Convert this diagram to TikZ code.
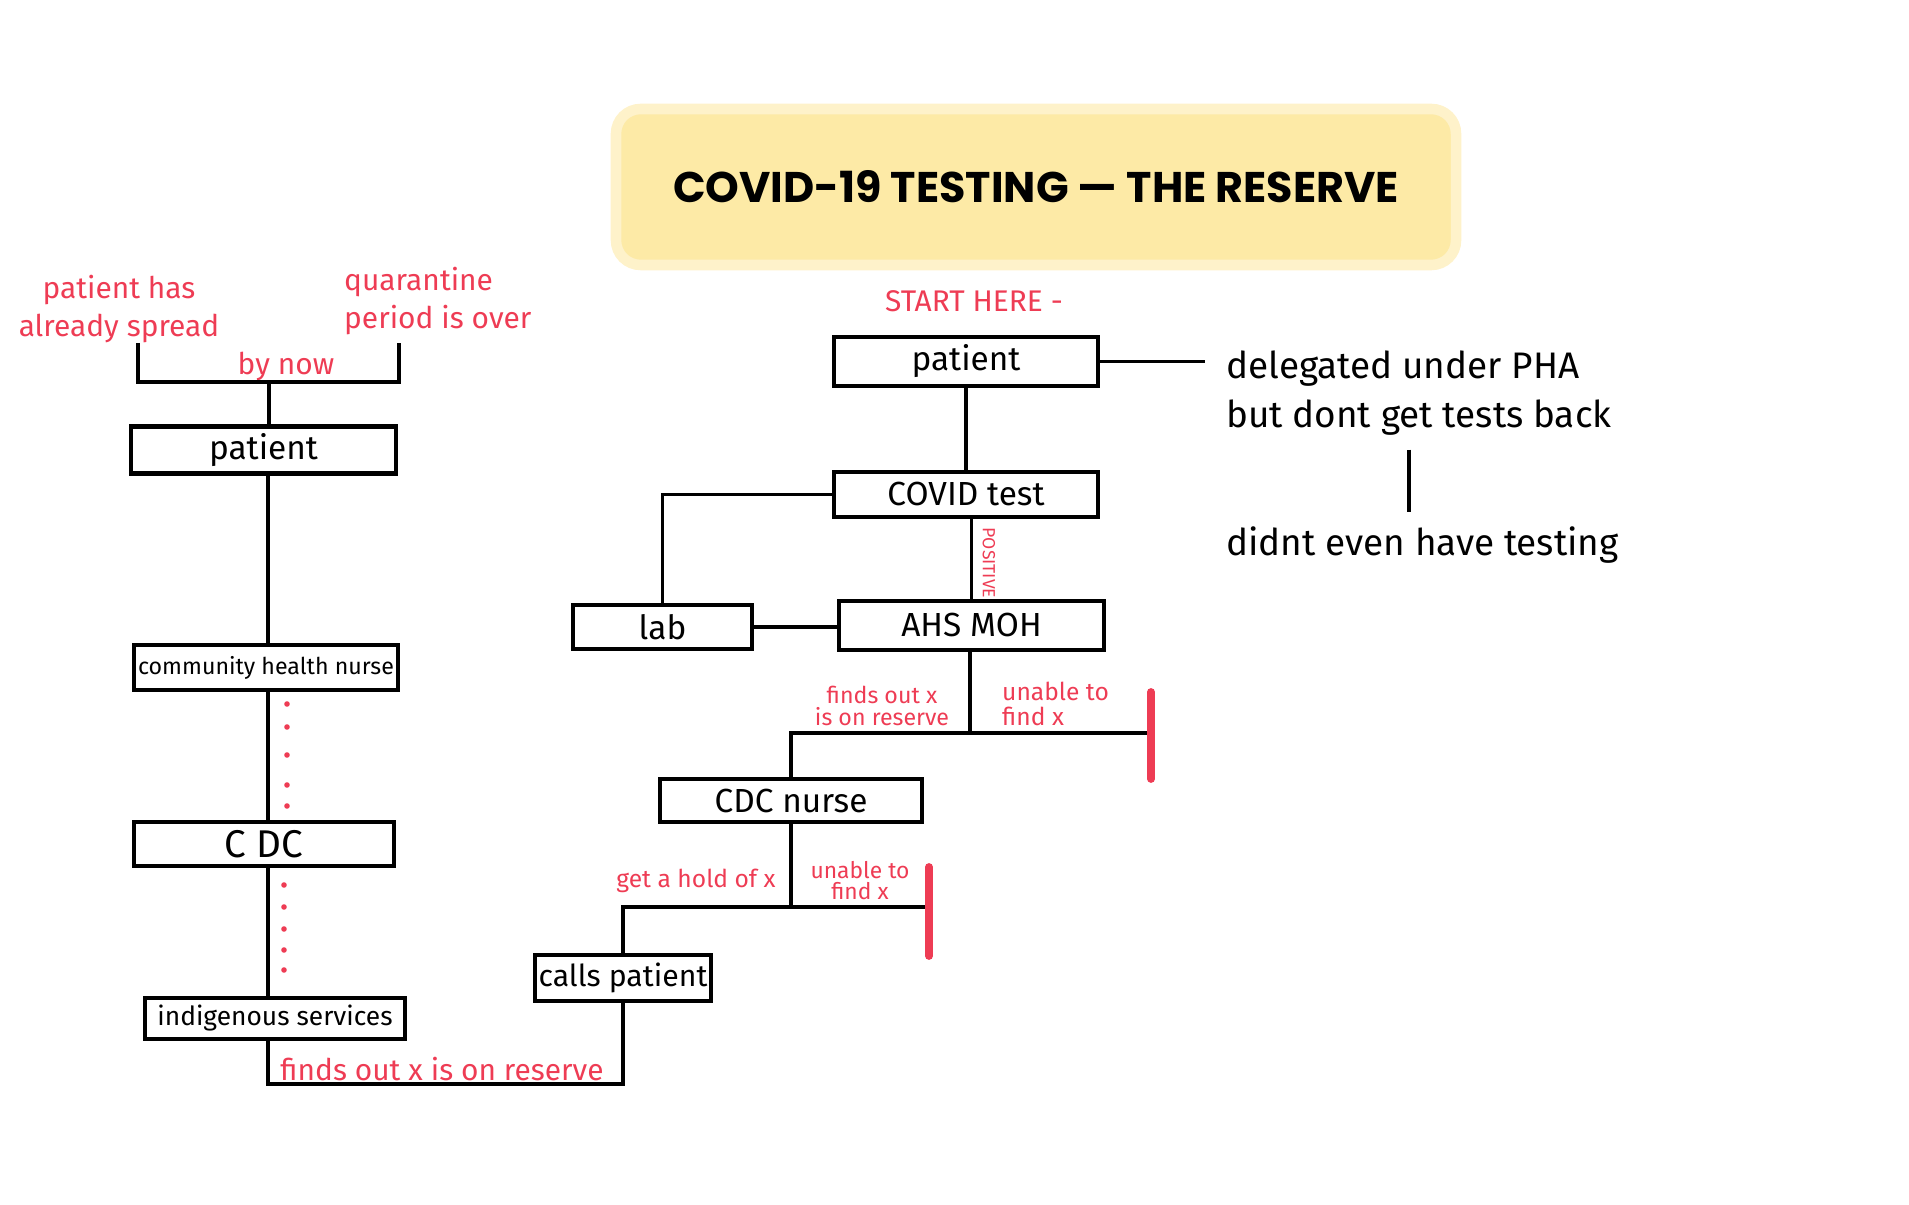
\documentclass[tikz,border=0pt]{standalone}
\usepackage{fontspec}
\setmainfont{Fira Sans}
\newfontfamily\titlefont{Poppins}
\definecolor{penred}{RGB}{238,60,84}
\definecolor{hilite}{RGB}{253,234,166}
\begin{document}
\begin{tikzpicture}[
    box/.style={draw, rectangle, line width=1.3pt, inner sep=2pt, font=\fontsize{9.5}{11}\selectfont},
    edge/.style={line width=0.9pt},
    pen/.style={text=penred, inner sep=1pt, align=center, font=\fontsize{8.5}{11}\selectfont},
    note/.style={inner sep=1pt, align=left, font=\fontsize{10.5}{14}\selectfont},
    stopbar/.style={draw=penred, line width=2.2pt, line cap=round}]

  \useasboundingbox (0,0) rectangle (19.09,-12.05);

  \node[fill=hilite, draw=hilite!60, line width=3pt, rounded corners=7pt,
        minimum width=8.4cm, minimum height=1.56cm,
        font=\titlefont\bfseries\fontsize{12.2}{14}\selectfont] (title) at (10.36,-1.87)
        {COVID-19 TESTING — THE RESERVE};

  % left column
  \coordinate (spine) at (2.68,0);
  \node[pen] (spread) at (1.19,-3.09) {patient has\\already spread};
  \node[pen, anchor=west, align=left] (over) at (3.40,-3.01) {quarantine\\period is over};
  \node[pen] (bynow) at (2.86,-3.66) {by now};
  \node[box, minimum width=2.65cm, minimum height=0.42cm] (lpat) at (2.635,-4.50) {patient};
  \node[box, minimum width=2.64cm, minimum height=0.45cm, inner sep=1pt, font=\fontsize{6.6}{8}\selectfont] (chn) at (2.66,-6.675) {community health nurse};
  \node[box, minimum width=2.60cm, minimum height=0.44cm, font=\fontsize{11}{12}\selectfont] (cdc) at (2.64,-8.44) {C DC};
  \node[box, minimum width=2.60cm, minimum height=0.41cm, font=\fontsize{7.5}{8}\selectfont] (indig) at (2.75,-10.185) {indigenous services};
  \node[pen] (found2) at (4.42,-10.69) {finds out x is on reserve};

  \coordinate (brl) at (1.38,-3.43);
  \coordinate (brr) at (3.99,-3.43);
  \coordinate (brm) at (2.69,-3.82);
  \draw[edge] (brl) |- (brm) -| (brr);
  \draw[edge] (brm) -- (brm |- lpat.north);
  \draw[edge] (lpat.south -| spine) -- (chn.north -| spine);
  \draw[edge] (chn.south -| spine) -- (cdc.north -| spine);
  \draw[edge] (cdc.south -| spine) -- (indig.north -| spine);

  \foreach \y in {7.04,7.27,7.55,7.85,8.06}
    \fill[penred] (2.87,-\y) circle (0.028);
  \foreach \y in {8.85,9.07,9.29,9.50,9.70}
    \fill[penred] (2.84,-\y) circle (0.028);

  % right column
  \node[pen] (start) at (9.74,-3.01) {START HERE -};
  \node[box, minimum width=2.64cm, minimum height=0.49cm] (rpat) at (9.66,-3.615) {patient};
  \node[box, minimum width=2.64cm, minimum height=0.45cm] (covid) at (9.66,-4.945) {COVID test};
  \node[box, minimum width=1.79cm, minimum height=0.44cm] (lab) at (6.625,-6.27) {lab};
  \node[box, minimum width=2.65cm, minimum height=0.49cm] (ahs) at (9.715,-6.255) {AHS MOH};
  \node[box, minimum width=2.62cm, minimum height=0.43cm] (cdcn) at (7.91,-8.005) {CDC nurse};
  \node[box, minimum width=1.74cm, minimum height=0.46cm, inner sep=1pt, font=\fontsize{8.6}{10}\selectfont] (calls) at (6.23,-9.78) {calls patient};
  \node[pen, rotate=-90, font=\fontsize{5}{6}\selectfont] (pos) at (9.89,-5.63) {POSITIVE};

  \node[note, anchor=west] (dnote) at (12.22,-3.93) {delegated under PHA\\but dont get tests back};
  \node[note, anchor=west] (nonote) at (12.22,-5.45) {didnt even have testing};
  \coordinate (dend) at (12.05,-3.59);
  \coordinate (vx) at (14.09,0);

  \draw[edge] (rpat.east) -- (rpat.east -| dend);
  \draw[edge, shorten <=0.1cm, shorten >=0.1cm] (dnote.south -| vx) -- (nonote.north -| vx);
  \draw[edge] (rpat.south) -- (covid.north);
  \draw[edge] (covid.west) -| (lab.north);
  \draw[edge] (lab.east) -- (lab.east -| ahs.west);
  \draw[edge] (ahs.north |- covid.south) -- (ahs.north);

  \node[pen, font=\fontsize{6.6}{6.5}\selectfont] (found1) at (8.82,-7.06) {finds out x\\is on reserve};
  \node[pen, anchor=west, align=left, font=\fontsize{7}{7}\selectfont] (lost1) at (9.98,-7.04) {unable to\\find x};
  \coordinate (j1) at (9.70,-7.33);
  \coordinate (stop1) at (11.51,-7.33);
  \draw[edge] (ahs.south -| j1) -- (j1);
  \draw[edge] (cdcn.north) |- (stop1);
  \draw[stopbar] (stop1) ++(0,0.41) -- ++(0,-0.87);

  \node[pen, font=\fontsize{7}{8}\selectfont] (hold) at (6.96,-8.81) {get a hold of x};
  \node[pen, font=\fontsize{6.5}{6}\selectfont] (lost2) at (8.60,-8.81) {unable to\\find x};
  \coordinate (stop2) at (9.29,-9.07);
  \draw[edge] (cdcn.south) -- (cdcn.south |- stop2);
  \draw[edge] (calls.north) |- (stop2);
  \draw[stopbar] (stop2) ++(0,0.40) -- ++(0,-0.89);

  \coordinate (bot) at (2.68,-10.84);
  \draw[edge] (indig.south -| bot) -- (bot) -| (calls.south);
\end{tikzpicture}
\end{document}
